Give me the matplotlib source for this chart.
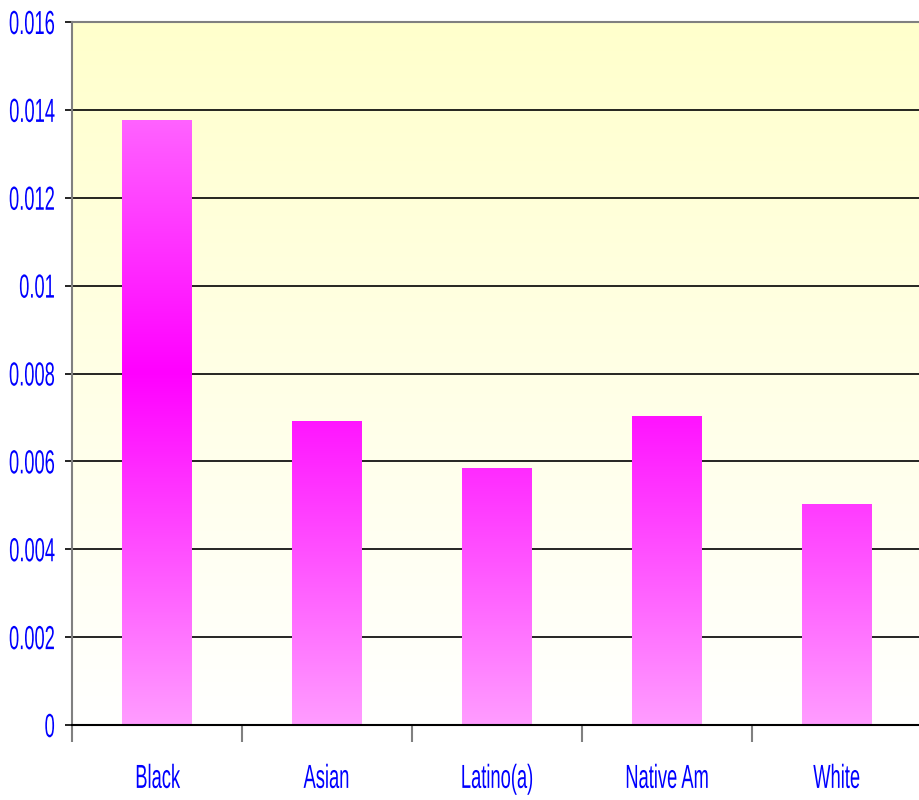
import numpy as np
import matplotlib.pyplot as plt
from matplotlib.colors import LinearSegmentedColormap
from matplotlib.ticker import FixedLocator, NullFormatter
from matplotlib.patheffects import AbstractPathEffect
from matplotlib.transforms import Affine2D

# data
groups = ['Black', 'Asian', 'Latino(a)', 'Native Am', 'White']
rates = [0.01377, 0.00692, 0.00585, 0.00703, 0.00503]
yticks = [0, 0.002, 0.004, 0.006, 0.008, 0.01, 0.012, 0.014, 0.016]
ytick_labels = ['0', '0.002', '0.004', '0.006', '0.008', '0.01', '0.012', '0.014', '0.016']

blue = '#0000ff'


class Condense(AbstractPathEffect):
    """squeeze text horizontally, like a narrow font"""
    def __init__(self, sx, anchor='center'):
        super().__init__()
        self.sx = sx
        self.anchor = anchor

    def draw_path(self, renderer, gc, tpath, affine, rgbFace=None):
        ext = affine.transform_path(tpath).get_extents()
        x0 = ext.x1 if self.anchor == 'right' else (ext.x0 + ext.x1) / 2
        squeeze = Affine2D().translate(-x0, 0).scale(self.sx, 1).translate(x0, 0)
        renderer.draw_path(gc, tpath, affine + squeeze, rgbFace)


fig = plt.figure(figsize=(9.19, 8), dpi=100)
ax = fig.add_axes([72 / 919, 75 / 800, 850 / 919, 703 / 800])

# background: pale yellow at top fading to white
bg = LinearSegmentedColormap.from_list('bg', ['#ffffff', '#ffffcc'])
ax.imshow(np.linspace(0, 1, 256).reshape(-1, 1), cmap=bg, origin='lower',
          extent=[0, 1, 0, 1], transform=ax.transAxes, aspect='auto', zorder=0)

# gridlines
for t in yticks[1:]:
    ax.axhline(t, color='black', lw=1.2, zorder=1)

# bars, filled with a magenta gradient that peaks at mid-axis
bars = ax.bar(range(len(groups)), rates, width=0.41, color='none', zorder=2)
pink = LinearSegmentedColormap.from_list('pink', ['#ff9cff', '#ff00ff', '#ff88ff'])
for b in bars:
    im = ax.imshow(np.linspace(0, 1, 256).reshape(-1, 1), cmap=pink, origin='lower',
                   extent=[-0.5, len(groups) - 0.5, 0, 0.016], aspect='auto', zorder=2)
    im.set_clip_path(b)

ax.set_xlim(-0.5, len(groups) - 0.5)
ax.set_ylim(0, 0.016)

# spines
ax.spines['right'].set_visible(False)
ax.spines['top'].set_color('#808080')
ax.spines['top'].set_linewidth(1.5)
ax.spines['left'].set_color('#808080')
ax.spines['left'].set_linewidth(1.5)
ax.spines['bottom'].set_color('black')
ax.spines['bottom'].set_linewidth(1.5)

# y axis
ax.set_yticks(yticks)
ax.set_yticklabels(ytick_labels, family='Liberation Sans', fontsize=24, color=blue)
ax.tick_params(axis='y', length=5, width=1.2, color='black', pad=7)
for lab in ax.get_yticklabels():
    lab.set_path_effects([Condense(0.55, 'right')])

# x axis: ticks at category boundaries, labels at centres
ax.xaxis.set_major_locator(FixedLocator(np.arange(-0.5, len(groups), 1.0)))
ax.xaxis.set_major_formatter(NullFormatter())
ax.xaxis.set_minor_locator(FixedLocator(range(len(groups))))
ax.set_xticklabels(groups, minor=True, family='Liberation Sans', fontsize=24, color=blue)
ax.tick_params(axis='x', which='major', length=12, width=1.5, color='#808080')
ax.tick_params(axis='x', which='minor', length=0, pad=28)
for lab in ax.get_xticklabels(minor=True):
    lab.set_path_effects([Condense(0.55)])

fig.savefig('out.png', dpi=100)
